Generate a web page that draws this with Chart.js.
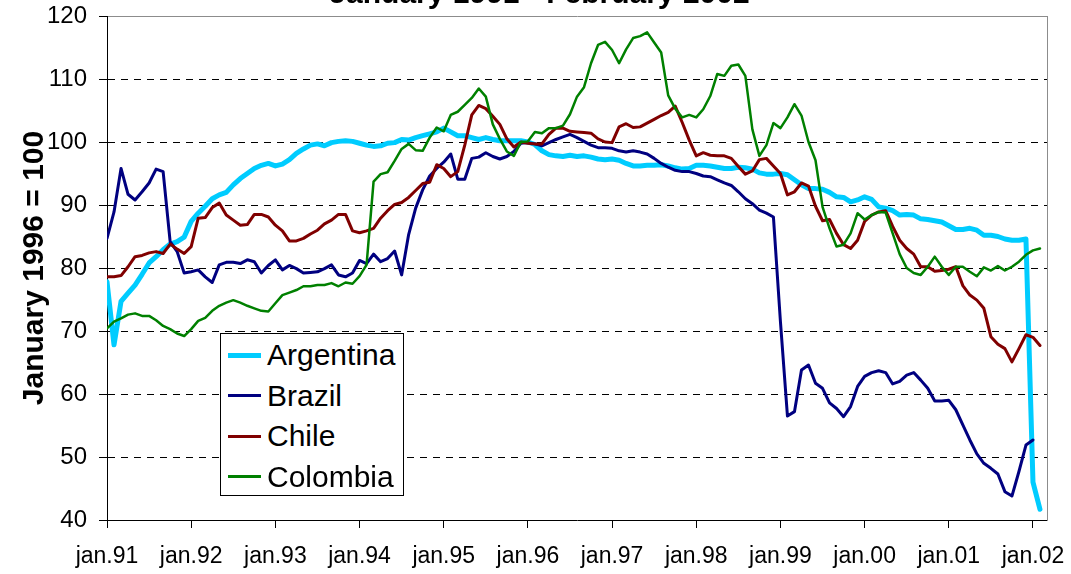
<!DOCTYPE html>
<html>
<head>
<meta charset="utf-8">
<script src="https://cdn.jsdelivr.net/npm/chart.js@4.4.1/dist/chart.umd.min.js"></script>
<style>
  html, body { margin: 0; padding: 0; background: #fff; overflow: hidden; }
  #wrap { position: relative; width: 1071px; height: 574px; overflow: hidden; background: #fff; }
  #chart { position: absolute; left: 0; top: 0; }
  #title { position: absolute; left: 4px; width: 1071px; top: -22px; text-align: center;
           font: bold 30px "Liberation Sans", Arial, sans-serif; line-height: 30px; white-space: nowrap; color: #000; }
  #legend { position: absolute; left: 220px; top: 333px; width: 182px; height: 161px;
            border: 1px solid #000; background: #fff; font: 30px "Liberation Sans", Arial, sans-serif; color: #000; }
  .item { position: absolute; left: 0; height: 40px; line-height: 40px; white-space: nowrap; }
  .swatch { position: absolute; left: 7px; width: 33px; }
  .label { position: absolute; left: 46px; top: 0; }
</style>
</head>
<body>
<div id="wrap">
  <canvas id="chart" width="1071" height="574"></canvas>
  <div id="title"></div>
  <div id="legend"></div>
</div>
<script>
// ---------------- data ----------------
const chartTitle = 'January 1991 - February 2002';
const yAxisTitle = 'January 1996 = 100';
const xTickLabels = ['jan.91','jan.92','jan.93','jan.94','jan.95','jan.96','jan.97','jan.98','jan.99','jan.00','jan.01','jan.02'];
const seriesNames = ['Argentina', 'Brazil', 'Chile', 'Colombia'];

// monthly values, jan.91 ... feb.02
const argentina = [
  77.8, 67.8, 74.7, 76.0, 77.3, 79.0, 80.8, 81.8, 82.9, 83.8, 84.2, 84.9,
  87.4, 88.7, 89.8, 91.0, 91.6, 92.0, 93.2, 94.2, 95.0, 95.8, 96.3, 96.6,
  96.2, 96.5, 97.2, 98.2, 98.9, 99.5, 99.7, 99.4, 99.9, 100.1, 100.2, 100.1,
  99.8, 99.5, 99.3, 99.4, 99.8, 99.9, 100.4, 100.3, 100.7, 101.0, 101.3, 101.6,
  102.2, 101.6, 101.0, 101.0, 100.7, 100.4, 100.7, 100.4, 100.2, 100.2, 100.2, 100.2,
  100.0, 99.6, 98.6, 98.0, 97.8, 97.7, 97.9, 97.7, 97.8, 97.6, 97.3, 97.2,
  97.3, 97.1, 96.6, 96.2, 96.2, 96.3, 96.3, 96.4, 96.2, 95.9, 95.7, 95.8,
  96.3, 96.3, 96.2, 96.0, 95.8, 95.8, 96.0, 95.9, 95.7, 95.1, 94.9, 94.9,
  95.0, 94.8, 94.0, 93.2, 92.6, 92.6, 92.5, 92.0, 91.3, 91.2, 90.5, 90.8,
  91.3, 90.9, 89.7, 89.5, 89.1, 88.4, 88.5, 88.4, 87.8, 87.7, 87.5, 87.3,
  86.7, 86.1, 86.1, 86.3, 86.0, 85.2, 85.2, 85.0, 84.6, 84.4, 84.4, 84.6,
  46.0, 41.7
];
const brazil = [
  84.7, 88.9, 95.8, 91.7, 90.8, 92.1, 93.5, 95.7, 95.3, 84.2, 82.6, 79.2,
  79.4, 79.7, 78.6, 77.7, 80.5, 80.9, 80.9, 80.7, 81.3, 81.0, 79.2, 80.4,
  81.3, 79.7, 80.4, 79.9, 79.2, 79.3, 79.4, 79.9, 80.5, 78.9, 78.6, 79.2,
  81.2, 80.7, 82.2, 81.0, 81.5, 82.7, 78.9, 85.3, 89.5, 92.4, 94.6, 95.8,
  96.8, 98.1, 94.1, 94.1, 97.4, 97.6, 98.3, 97.7, 97.3, 97.7, 98.5, 99.8,
  99.9, 99.7, 99.4, 99.9, 100.4, 100.8, 101.2, 100.7, 100.1, 99.5, 99.1, 99.1,
  99.0, 98.6, 98.4, 98.6, 98.4, 98.1, 97.4, 96.6, 96.0, 95.5, 95.3, 95.3,
  95.0, 94.6, 94.5, 94.0, 93.5, 93.1, 92.1, 91.0, 90.2, 89.2, 88.7, 88.1,
  71.5, 56.5, 57.2, 63.8, 64.6, 61.7, 60.9, 58.6, 57.7, 56.4, 58.0, 61.2,
  62.8, 63.4, 63.7, 63.4, 61.6, 62.0, 63.0, 63.4, 62.2, 60.9, 58.9, 58.9,
  59.0, 57.5, 55.1, 52.7, 50.5, 49.0, 48.2, 47.3, 44.5, 43.8, 47.7, 51.9,
  52.7, null
];
const chile = [
  78.6, 78.6, 78.8, 80.2, 81.8, 82.0, 82.4, 82.6, 82.3, 83.8, 83.0, 82.3,
  83.4, 87.9, 88.0, 89.6, 90.3, 88.4, 87.6, 86.8, 86.9, 88.5, 88.5, 88.1,
  86.8, 85.9, 84.3, 84.3, 84.7, 85.4, 86.0, 87.0, 87.6, 88.5, 88.5, 85.9,
  85.6, 85.9, 86.3, 87.9, 89.1, 90.1, 90.4, 91.2, 92.3, 93.4, 93.6, 96.4,
  95.8, 94.5, 95.3, 99.5, 104.3, 105.8, 105.3, 104.1, 102.8, 100.5, 99.2, 100.0,
  99.8, 99.7, 99.7, 101.2, 102.2, 102.2, 101.7, 101.6, 101.5, 101.4, 100.5, 100.0,
  99.9, 102.4, 102.9, 102.3, 102.4, 103.0, 103.6, 104.2, 104.7, 105.7, 103.1, 100.3,
  97.8, 98.3, 97.9, 97.8, 97.8, 97.4, 96.1, 94.9, 95.4, 97.2, 97.4, 96.2,
  95.0, 91.6, 92.1, 93.5, 93.0, 89.8, 87.5, 87.7, 85.5, 83.7, 83.1, 84.4,
  87.4, 88.4, 88.9, 89.1, 86.6, 84.4, 83.1, 82.2, 80.2, 80.2, 79.5, 79.6,
  79.8, 80.2, 77.2, 75.7, 74.9, 73.6, 69.1, 67.9, 67.2, 65.1, 67.2, 69.4,
  69.0, 67.7
];
const colombia = [
  70.4, 71.5, 72.0, 72.6, 72.8, 72.4, 72.4, 71.7, 70.8, 70.3, 69.6, 69.2,
  70.3, 71.6, 72.1, 73.2, 74.0, 74.5, 74.9, 74.5, 74.0, 73.6, 73.2, 73.1,
  74.4, 75.7, 76.1, 76.5, 77.1, 77.1, 77.3, 77.3, 77.6, 77.1, 77.7, 77.5,
  78.7, 80.5, 93.7, 94.9, 95.2, 97.0, 98.9, 99.7, 98.7, 98.6, 100.7, 102.3,
  101.7, 104.3, 104.8, 105.9, 107.0, 108.5, 107.2, 102.8, 100.5, 98.5, 97.8, 100.0,
  100.1, 101.6, 101.4, 102.2, 102.2, 102.6, 104.4, 107.2, 108.7, 112.5, 115.4, 115.9,
  114.6, 112.5, 114.7, 116.5, 116.8, 117.4, 115.8, 114.2, 107.4, 105.3, 103.9, 104.3,
  103.9, 105.2, 107.3, 110.8, 110.5, 112.1, 112.3, 110.5, 102.0, 97.8, 99.5, 103.0,
  102.2, 103.9, 106.0, 104.2, 100.0, 97.1, 89.7, 86.3, 83.4, 83.7, 85.5, 88.7,
  87.7, 88.4, 88.9, 88.8, 85.5, 82.2, 80.0, 79.2, 78.9, 80.2, 81.8, 80.2,
  78.9, 80.2, 80.2, 79.4, 78.7, 80.1, 79.6, 80.3, 79.6, 80.2, 81.0, 82.1,
  82.8, 83.1
];

// ---------------- styles ----------------
const seriesValues = [argentina, brazil, chile, colombia];
const seriesColors = ['#00CCFF', '#000080', '#800000', '#008000'];
const seriesWidths = [5, 3, 3, 2.5];
const seriesOrder = [3, 2, 1, 0];
const FONT = '"Liberation Sans", Arial, sans-serif';

document.getElementById('title').textContent = chartTitle;

// HTML legend
const legend = document.getElementById('legend');
seriesNames.forEach((name, k) => {
  const row = document.createElement('div');
  row.className = 'item';
  row.style.top = (1 + k * 40.5) + 'px';
  row.style.width = '180px';
  const sw = document.createElement('div');
  sw.className = 'swatch';
  sw.style.height = seriesWidths[k] + 'px';
  sw.style.top = (20 - seriesWidths[k] / 2) + 'px';
  sw.style.background = seriesColors[k];
  const lb = document.createElement('span');
  lb.className = 'label';
  lb.textContent = name;
  row.appendChild(sw);
  row.appendChild(lb);
  legend.appendChild(row);
});

const datasets = seriesNames.map((name, k) => ({
  label: name,
  data: seriesValues[k].map((v, i) => ({ x: i, y: v })),
  borderColor: seriesColors[k],
  backgroundColor: seriesColors[k],
  borderWidth: seriesWidths[k],
  pointRadius: 0,
  pointHoverRadius: 0,
  tension: 0,
  fill: false,
  spanGaps: false,
  borderJoinStyle: 'round',
  borderCapStyle: 'round',
  order: seriesOrder[k]
}));

const zeroPad = s => { s.paddingTop = 0; s.paddingBottom = 0; s.paddingLeft = 0; s.paddingRight = 0; };

new Chart(document.getElementById('chart'), {
  type: 'line',
  data: { datasets },
  options: {
    responsive: false,
    animation: false,
    devicePixelRatio: 1,
    layout: { padding: { top: 16, right: 24, left: 0, bottom: 0 } },
    plugins: { legend: { display: false }, tooltip: { enabled: false }, title: { display: false } },
    scales: {
      x: {
        type: 'linear',
        min: 0,
        max: 134,
        afterBuildTicks: s => { s.ticks = s.ticks.filter(t => t.value % 12 === 0 && t.value <= 132); },
        afterFit: s => { s.height = 54; zeroPad(s); },
        ticks: {
          stepSize: 12,
          includeBounds: false,
          autoSkip: false,
          maxRotation: 0,
          color: '#000',
          padding: 15,
          font: { family: FONT, size: 23 },
          callback: v => xTickLabels[Math.round(v / 12)] || ''
        },
        grid: { drawOnChartArea: false, drawTicks: true, tickLength: 8, tickColor: '#000', color: '#000' },
        border: { display: true, color: '#000', width: 1 }
      },
      y: {
        type: 'linear',
        min: 40,
        max: 120,
        afterFit: s => { s.width = 107; zeroPad(s); },
        ticks: {
          stepSize: 10,
          color: '#000',
          padding: 12,
          font: { family: FONT, size: 24 }
        },
        grid: {
          drawTicks: true,
          tickLength: 8,
          tickColor: '#000',
          lineWidth: 1,
          color: c => (c.tick && c.tick.value === 120) ? '#8c8c8c' : ((c.tick && c.tick.value === 40) ? 'rgba(0,0,0,0)' : '#000')
        },
        border: {
          display: true,
          color: '#000',
          width: 1,
          dash: c => (c.tick && c.tick.value === 120) ? [] : [7, 6]
        },
        title: {
          display: true,
          text: yAxisTitle,
          color: '#000',
          font: { family: FONT, size: 30, weight: 'bold' },
          padding: { top: 17, bottom: 0 }
        }
      },
      y2: {
        type: 'linear',
        position: 'right',
        min: 40,
        max: 120,
        display: true,
        afterFit: s => { s.width = 0; zeroPad(s); },
        ticks: { display: false },
        grid: { display: false, drawTicks: false },
        border: { display: true, color: '#8c8c8c', width: 1 }
      }
    }
  }
});
</script>
</body>
</html>
